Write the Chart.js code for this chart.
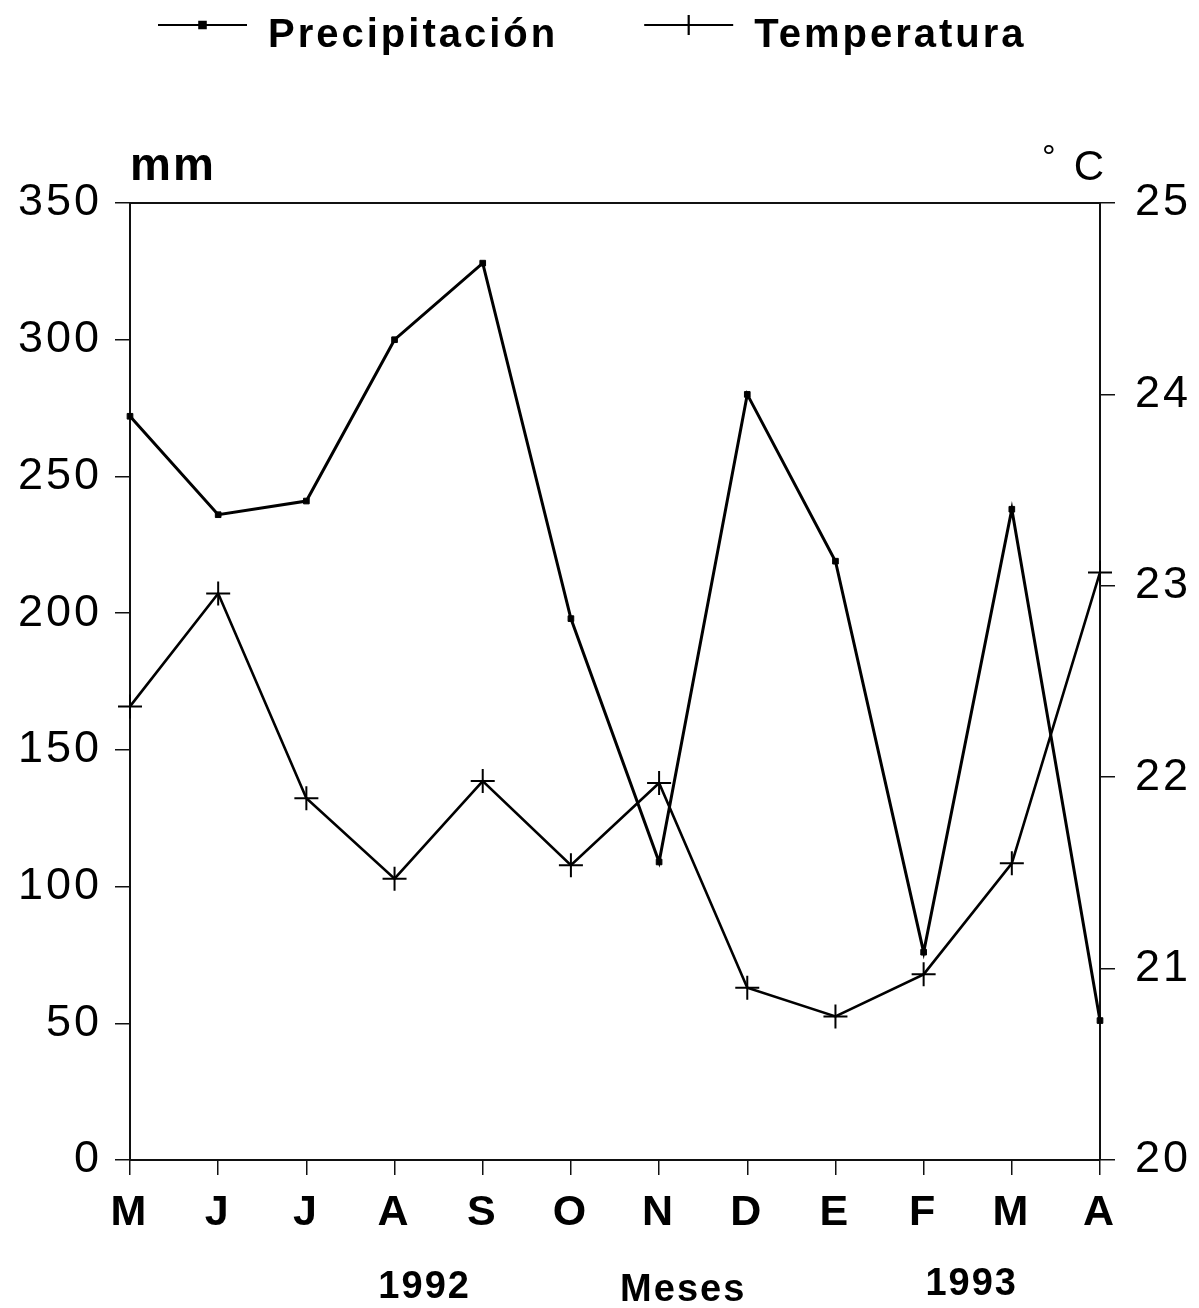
<!DOCTYPE html>
<html><head><meta charset="utf-8">
<script src="https://cdn.jsdelivr.net/npm/chart.js@4.4.1/dist/chart.umd.min.js"></script>
<style>html,body{margin:0;padding:0;background:#fff;}canvas{display:block;}</style>
</head><body>
<canvas id="c" width="1199" height="1308"></canvas>
<script>
const months = ['M','J','J','A','S','O','N','D','E','F','M','A'];
const precipitacion = [272, 236, 241, 300, 328, 198, 109, 280, 219, 76, 238, 51];
const temperatura = [22.37, 22.96, 21.89, 21.47, 21.98, 21.54, 21.97, 20.90, 20.75, 20.97, 21.55, 23.07];
const seriesNames = ['Precipitación', 'Temperatura'];
const mmRange = [0, 350, 50];
const cRange = [20, 25, 1];
const yearLabels = ['1992', '1993'];
const xTitle = 'Meses';
const leftUnit = 'mm';
const rightUnit = 'C';
const degree = '°';

const FONT = '"Liberation Sans", Arial, Helvetica, sans-serif';

const spacingPlugin = {
  id: 'spacing',
  beforeDraw(chart) { try { chart.ctx.letterSpacing = '3px'; } catch (e) {} }
};

const legendPlugin = {
  id: 'customLegend',
  afterDraw(chart) {
    const ctx = chart.ctx;
    ctx.save();
    ctx.font = 'bold 40px ' + FONT;
    try { ctx.letterSpacing = '3px'; } catch (e) {}
    ctx.textBaseline = 'alphabetic';
    ctx.textAlign = 'left';
    let x = 158;
    const yLine = 25, yText = 47, lineLen = 89, gapText = 21, gapItem = 86;
    chart.data.datasets.forEach((ds) => {
      ctx.strokeStyle = ds.borderColor;
      ctx.fillStyle = ds.borderColor;
      ctx.lineWidth = 2.2;
      ctx.beginPath();
      ctx.moveTo(x, yLine);
      ctx.lineTo(x + lineLen, yLine);
      ctx.stroke();
      Chart.helpers.drawPoint(ctx, {
        pointStyle: ds.pointStyle,
        radius: ds.pointStyle === 'cross' ? 10 : 4.5,
        borderWidth: ds.pointStyle === 'cross' ? 1.6 : 1,
        rotation: 0
      }, x + lineLen / 2, yLine);
      ctx.fillStyle = '#000';
      const tx = x + lineLen + gapText;
      ctx.fillText(ds.label, tx, yText);
      x = tx + ctx.measureText(ds.label).width + gapItem;
    });
    ctx.restore();
  }
};

const textPlugin = {
  id: 'extraText',
  afterDraw(chart) {
    const ctx = chart.ctx;
    const a = chart.chartArea;
    const xs = chart.scales.x;
    ctx.save();
    ctx.fillStyle = '#000';
    ctx.textBaseline = 'alphabetic';
    try { ctx.letterSpacing = '2px'; } catch (e) {}
    ctx.font = 'bold 46px ' + FONT;
    ctx.textAlign = 'left';
    ctx.fillText(leftUnit, a.left, 180);
    ctx.font = '42px ' + FONT;
    ctx.textAlign = 'right';
    ctx.fillText(rightUnit, a.right + 6, 180);
    ctx.font = '34px ' + FONT;
    ctx.textAlign = 'left';
    ctx.fillText(degree, a.right - 58, 168);
    ctx.textAlign = 'center';
    ctx.font = 'bold 38px ' + FONT;
    const p = (i) => xs.getPixelForValue(i);
    ctx.fillText(yearLabels[0], (p(3) + p(4)) / 2 - 14, 1298);
    ctx.fillText(yearLabels[1], (p(9) + p(10)) / 2 + 4, 1295);
    ctx.fillText(xTitle, (p(6) + p(7)) / 2 - 20, 1301);
    ctx.restore();
  }
};

const axisColor = '#111';

new Chart(document.getElementById('c'), {
  type: 'line',
  data: {
    labels: months,
    datasets: [
      {
        label: seriesNames[0],
        data: precipitacion,
        yAxisID: 'y',
        borderColor: '#000',
        backgroundColor: '#000',
        borderWidth: 3,
        pointStyle: 'rect',
        pointRadius: 4,
        pointBorderWidth: 1,
        tension: 0,
        clip: false
      },
      {
        label: seriesNames[1],
        data: temperatura,
        yAxisID: 'y2',
        borderColor: '#000',
        backgroundColor: '#000',
        borderWidth: 2.6,
        pointStyle: 'cross',
        pointRadius: 12,
        pointBorderWidth: 2,
        tension: 0,
        clip: false
      }
    ]
  },
  options: {
    responsive: false,
    animation: false,
    devicePixelRatio: 1,
    layout: { padding: { top: 203, left: 0, right: 0, bottom: 0 } },
    plugins: { legend: { display: false }, tooltip: { enabled: false } },
    scales: {
      x: {
        type: 'category',
        offset: false,
        position: 'bottom',
        grid: { drawOnChartArea: false, drawTicks: true, tickLength: 15, color: axisColor, lineWidth: 1.5 },
        border: { display: true, color: axisColor, width: 2 },
        ticks: { color: '#000', font: { family: FONT, size: 43, weight: 'bold' }, padding: 12, autoSkip: false, maxRotation: 0 },
        afterFit(s) { s.height = 148; }
      },
      y: {
        position: 'left',
        min: mmRange[0], max: mmRange[1],
        grid: { drawOnChartArea: false, drawTicks: true, tickLength: 15, color: axisColor, lineWidth: 1.5 },
        border: { display: true, color: axisColor, width: 2 },
        ticks: { stepSize: mmRange[2], color: '#000', font: { family: FONT, size: 45 }, padding: 13 },
        afterFit(s) { s.width = 130; }
      },
      y2: {
        position: 'right',
        min: cRange[0], max: cRange[1],
        grid: { drawOnChartArea: false, drawTicks: true, tickLength: 15, color: axisColor, lineWidth: 1.5 },
        border: { display: true, color: axisColor, width: 2 },
        ticks: { stepSize: cRange[2], color: '#000', font: { family: FONT, size: 45 }, padding: 20 },
        afterFit(s) { s.width = 99; }
      },
      xTop: {
        type: 'category',
        position: 'top',
        labels: months,
        offset: false,
        grid: { display: false, drawTicks: false },
        border: { display: true, color: axisColor, width: 2 },
        ticks: { display: false },
        afterFit(s) { s.height = 0; }
      }
    }
  },
  plugins: [spacingPlugin, legendPlugin, textPlugin]
});
</script>
</body></html>
